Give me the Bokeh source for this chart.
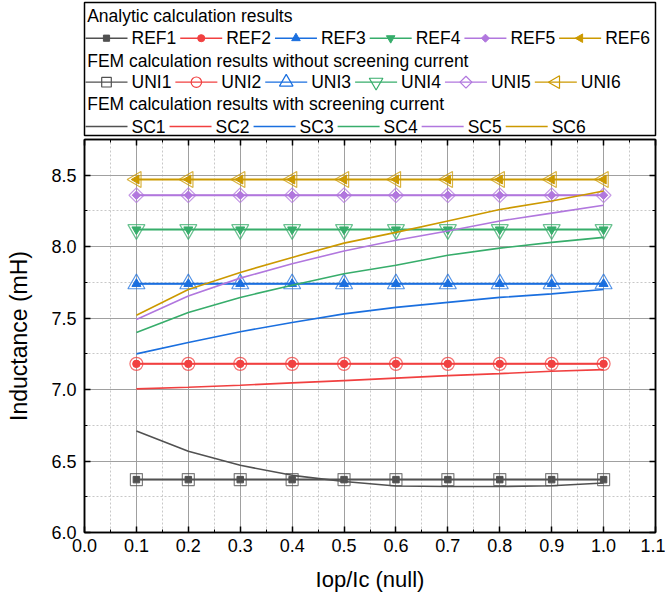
import math
from bokeh.plotting import figure
from bokeh.models import Range1d, FixedTicker, LinearAxis, PrintfTickFormatter, CustomJSTickFormatter
from bokeh.layouts import column
from bokeh.core.properties import value
from bokeh.embed import file_html
from bokeh.resources import INLINE

# ---------------- data ----------------
x_vals = [0.1, 0.2, 0.3, 0.4, 0.5, 0.6, 0.7, 0.8, 0.9, 1.0]

group_titles = ["Analytic calculation results",
                "FEM calculation results without screening current",
                "FEM calculation results with screening current"]
ref_names = ["REF1", "REF2", "REF3", "REF4", "REF5", "REF6"]
uni_names = ["UNI1", "UNI2", "UNI3", "UNI4", "UNI5", "UNI6"]
sc_names = ["SC1", "SC2", "SC3", "SC4", "SC5", "SC6"]

ref_values = [6.37, 7.18, 7.74, 8.12, 8.36, 8.47]
uni_values = [6.37, 7.18, 7.74, 8.12, 8.36, 8.47]

sc1 = [6.71, 6.568, 6.47, 6.40, 6.357, 6.325, 6.322, 6.322, 6.327, 6.346]
sc2 = [7.005, 7.016, 7.03, 7.047, 7.063, 7.08, 7.098, 7.112, 7.128, 7.14]
sc3 = [7.25, 7.33, 7.405, 7.47, 7.53, 7.575, 7.61, 7.645, 7.67, 7.70]
sc4 = [7.40, 7.54, 7.645, 7.73, 7.81, 7.87, 7.94, 7.99, 8.03, 8.065]
sc5 = [7.49, 7.655, 7.78, 7.88, 7.97, 8.045, 8.11, 8.18, 8.235, 8.29]
sc6 = [7.52, 7.70, 7.82, 7.925, 8.025, 8.10, 8.18, 8.26, 8.32, 8.39]
sc_values = [sc1, sc2, sc3, sc4, sc5, sc6]

x_ticks = [0.0, 0.1, 0.2, 0.3, 0.4, 0.5, 0.6, 0.7, 0.8, 0.9, 1.0, 1.1]
y_ticks = [6.0, 6.5, 7.0, 7.5, 8.0, 8.5]
x_label = "Iop/Ic (null)"
y_label = "Inductance (mH)"

# ---------------- styles ----------------
colors = ["#515151", "#F14040", "#1A6FDF", "#37AD6B", "#B177DE", "#CC9900"]
markers = ["square", "circle", "triangle", "inverted_triangle", "square", "triangle"]
angles = [0, 0, 0, 0, math.pi / 4, math.pi / 2]
ref_sizes = [6.5, 7.5, 9, 9, 6, 9]
uni_sizes = [12, 13, 17, 17, 10.5, 16]
FONT = "Liberation Sans"

# ---------------- main plot ----------------
p = figure(width=665, height=462, x_range=Range1d(0.0, 1.1), y_range=Range1d(6.0, 8.75),
           output_backend="svg", toolbar_location=None,
           min_border_left=83, min_border_right=8, min_border_top=2, min_border_bottom=67)
p.outline_line_color = "black"
p.outline_line_width = 1.5
p.background_fill_color = "white"
p.border_fill_color = "white"

xt = FixedTicker(ticks=x_ticks, minor_ticks=[round(i * 0.05, 2) for i in range(23)])
yt = FixedTicker(ticks=y_ticks, minor_ticks=[round(6.0 + i * 0.25, 2) for i in range(12)])


def style_axis(ax, labels=True):
    ax.axis_line_color = "black"
    ax.axis_line_width = 1.5
    ax.major_tick_in = 6
    ax.major_tick_out = 0
    ax.minor_tick_in = 3
    ax.minor_tick_out = 0
    ax.major_tick_line_color = "black"
    ax.major_tick_line_width = 1.5
    ax.minor_tick_line_color = "black"
    ax.minor_tick_line_width = 1
    if labels:
        ax.major_label_text_font = FONT
        ax.major_label_text_font_size = "18px"
        ax.major_label_text_color = "black"
        ax.axis_label_text_font = FONT
        ax.axis_label_text_font_style = "normal"
        ax.axis_label_text_color = "black"
    else:
        ax.major_label_text_font_size = "0px"
        ax.major_label_standoff = 0
        ax.formatter = CustomJSTickFormatter(code="return ''")


xa = p.xaxis[0]
ya = p.yaxis[0]
xa.ticker = xt
ya.ticker = yt
xa.formatter = PrintfTickFormatter(format="%.1f")
ya.formatter = PrintfTickFormatter(format="%.1f")
style_axis(xa)
style_axis(ya)
xa.axis_label = x_label
ya.axis_label = y_label
xa.axis_label_text_font_size = "22px"
ya.axis_label_text_font_size = "23px"
xa.major_label_standoff = 6
ya.major_label_standoff = 8
xa.axis_label_standoff = 12
ya.axis_label_standoff = 16

top = LinearAxis(ticker=xt)
style_axis(top, labels=False)
p.add_layout(top, "above")
right = LinearAxis(ticker=yt)
style_axis(right, labels=False)
p.add_layout(right, "right")

for g in (p.xgrid[0], p.ygrid[0]):
    g.grid_line_color = "#a0a0a0"
    g.grid_line_width = 1
    g.minor_grid_line_color = "#c8c8c8"
    g.minor_grid_line_dash = "2 2"
    g.minor_grid_line_width = 1
p.xgrid[0].ticker = xt
p.ygrid[0].ticker = yt

n = len(x_vals)
# analytic (REF)
for i in range(6):
    yv = [ref_values[i]] * n
    p.line(x_vals, yv, line_color=colors[i], line_width=2)
    p.scatter(x_vals, yv, marker=markers[i], size=ref_sizes[i], angle=angles[i],
              fill_color=colors[i], line_color=colors[i])
# FEM without screening current (UNI)
for i in range(6):
    yv = [uni_values[i]] * n
    p.line(x_vals, yv, line_color=colors[i], line_width=1)
    p.scatter(x_vals, yv, marker=markers[i], size=uni_sizes[i], angle=angles[i],
              fill_alpha=0, line_color=colors[i], line_alpha=0.75, line_width=1.2)
# FEM with screening current (SC)
for i in range(6):
    p.line(x_vals, sc_values[i], line_color=colors[i], line_width=1.6)

# ---------------- legend panel ----------------
LW, LH = 571, 133
lf = figure(width=665, height=137, x_range=Range1d(0, LW), y_range=Range1d(LH, 0),
            x_axis_type=None, y_axis_type=None, output_backend="svg", toolbar_location=None,
            min_border_left=84, min_border_right=10, min_border_top=2, min_border_bottom=2)
lf.outline_line_color = "black"
lf.outline_line_width = 1.5
lf.grid.visible = False

FS = 17.5
CW = {"R": 722, "E": 667, "F": 611, "U": 722, "N": 722, "I": 278, "S": 667, "C": 722}


def text_w(s):
    return sum(CW.get(c, 556) for c in s) / 1000.0 * FS


header_y = [13, 58, 101.3]
item_y = [35.7, 79.7, 124]
GW, ST, GAP = 42, 4, 4
groups = [ref_names, uni_names, sc_names]

lf.text(x=[2.7] * 3, y=header_y, text=group_titles, text_font=value(FONT),
        text_font_size=f"{FS}px", text_baseline="middle", text_align="left", text_color="black")

for gi, names in enumerate(groups):
    x0 = 1.0
    xs0, xs1, xm, xt_, = [], [], [], []
    for name in names:
        xs0.append(x0)
        xs1.append(x0 + GW)
        xm.append(x0 + GW / 2)
        xt_.append(x0 + GW + ST)
        x0 += GW + ST + text_w(name) + GAP
    yy = [item_y[gi]] * 6
    lf.segment(x0=xs0, y0=yy, x1=xs1, y1=yy, line_color=colors,
               line_width=1.5 if gi != 1 else 1.2)
    if gi == 0:
        lf.scatter(x=xm, y=yy, marker=markers, size=[s * 0.95 for s in ref_sizes], angle=angles,
                   fill_color=colors, line_color=colors)
    elif gi == 1:
        lf.scatter(x=xm, y=yy, marker=markers, size=[s * 0.8 for s in uni_sizes], angle=angles,
                   fill_alpha=0, line_color=colors, line_width=1.2)
    lf.text(x=xt_, y=yy, text=names, text_font=value(FONT), text_font_size=f"{FS}px",
            text_baseline="middle", text_align="left", text_color="black")

layout = column(lf, p, spacing=0)
open("out.html", "w").write(file_html(layout, INLINE))
